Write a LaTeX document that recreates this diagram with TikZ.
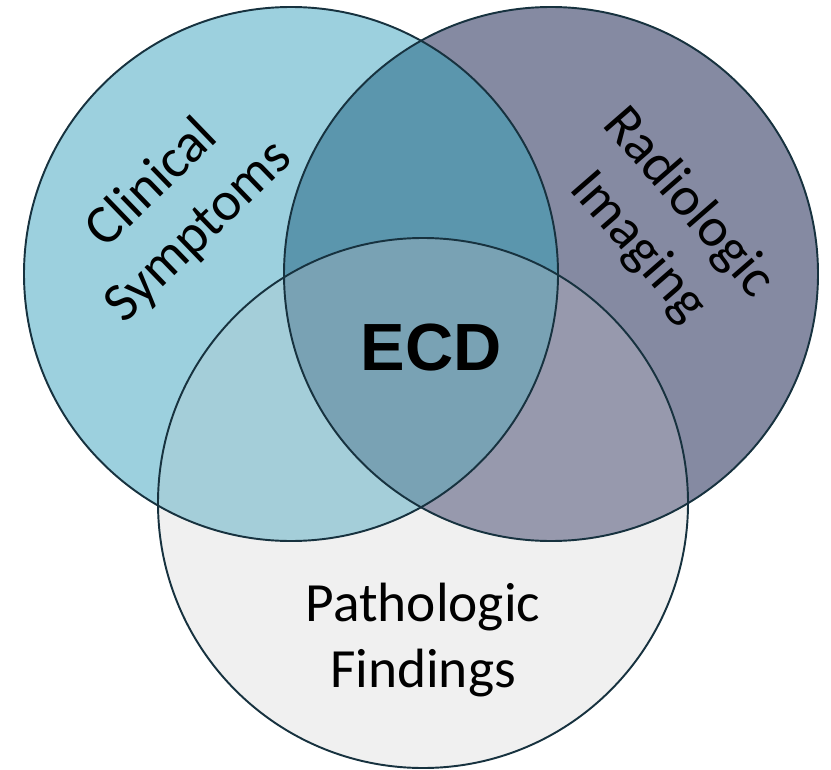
\documentclass[tikz,border=0pt]{standalone}
\usepackage{fontspec}
\usepackage{tikz}
\usetikzlibrary{positioning}
\newfontfamily\labelfont{Carlito}
\newfontfamily\ecdfont{Liberation Sans}

\definecolor{clinicfill}{HTML}{9CD0DE}
\definecolor{radiofill}{HTML}{858AA2}
\definecolor{pathofill}{HTML}{F0F0F0}
\definecolor{clinradfill}{HTML}{5B96AD}
\definecolor{clinpathfill}{HTML}{A4CED9}
\definecolor{radpathfill}{HTML}{9799AD}
\definecolor{allfill}{HTML}{79A2B4}
\definecolor{rimcol}{HTML}{17323F}

\def\clinicset{(291,274) circle[radius=267]}
\def\radioset{(551,274) circle[radius=267]}
\def\pathoset{(423,503) circle[radius=265]}

\begin{document}
\begin{tikzpicture}
                    [
                        x=0.02cm, y=-0.02cm,
                        rim/.style={draw=rimcol, line width=1.1pt},
                        lbl/.style={align=center, text=black, inner sep=0pt,
                            font=\labelfont\fontsize{31.5}{38}\selectfont},
                        core/.style={text=black, inner sep=0pt,
                            font=\ecdfont\bfseries\fontsize{38}{40}\selectfont}
                    ]
                    
                    % Rahmen
                    \useasboundingbox (0,0) rectangle (831,770);
                    
                    % Kreise
                    \fill[clinicfill] \clinicset;
                    \fill[radiofill] \radioset;
                    \fill[pathofill] \pathoset;
                    
                    % Schnittmengen
                    \begin{scope}
                        \clip \clinicset;
                        \fill[clinradfill] \radioset;
                        \fill[clinpathfill] \pathoset;
                    \end{scope}
                    \begin{scope}
                        \clip \radioset;
                        \fill[radpathfill] \pathoset;
                    \end{scope}
                    \begin{scope}
                        \clip \clinicset;
                        \clip \radioset;
                        \fill[allfill] \pathoset;
                    \end{scope}
                    
                    \draw[rim] \clinicset;
                    \draw[rim] \radioset;
                    \draw[rim] \pathoset;
                    
                    % Beschriftung
                    \node[lbl, rotate=44] (clinic) at (176,208) {Clinical\\Symptoms};
                    \node[lbl, rotate=-49] (radio) at (663,225) {Radiologic\\Imaging};
                    \node[lbl] (patho) at (423,640) {Pathologic\\Findings};
                    \node[core] (ecd) at (431,348) {ECD};
                \end{tikzpicture}
\end{document}
